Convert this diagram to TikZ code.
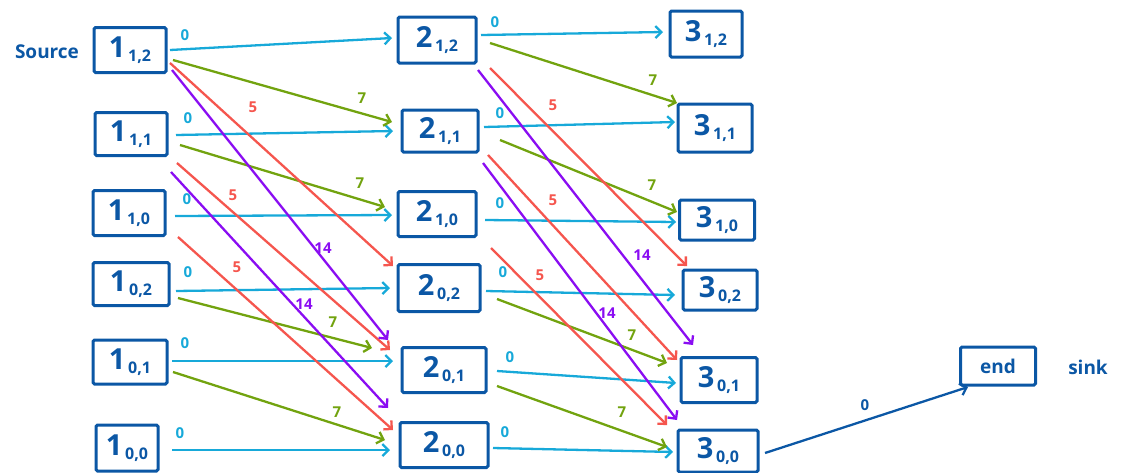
\documentclass[tikz,border=0pt]{standalone}
\usepackage{fontspec}
\setmainfont{Open Sans}
\usetikzlibrary{arrows.meta}
\definecolor{nodeblue}{HTML}{0B57A5}
\definecolor{ecyan}{HTML}{17A9D9}
\definecolor{egreen}{HTML}{72A30F}
\definecolor{ered}{HTML}{F5564E}
\definecolor{epurple}{HTML}{8A0DF2}
\newcommand{\nlab}[2]{#1\raisebox{-4pt}{\fontsize{16}{16}\selectfont\,#2}}
\begin{document}
\begin{tikzpicture}[x=1pt,y=-1pt,
  box/.style={draw=nodeblue,line width=3pt,text=nodeblue,inner sep=0pt,
    font=\fontsize{29}{30}\selectfont\bfseries,rounded corners=1.5pt},
  edge/.style={line width=2.3pt,-{Straight Barb[length=6pt,width=12pt]}},
  e0/.style={edge,ecyan},
  e7/.style={edge,egreen},
  e5/.style={edge,ered},
  e14/.style={edge,epurple},
  eend/.style={edge,nodeblue},
  lab/.style={font=\fontsize{15}{15}\selectfont\bfseries,inner sep=0pt},
  l0/.style={lab,text=ecyan},
  l7/.style={lab,text=egreen},
  l5/.style={lab,text=ered},
  l14/.style={lab,text=epurple},
  side/.style={text=nodeblue,font=\fontsize{19}{20}\selectfont\bfseries,inner sep=0pt}
]
\useasboundingbox (0,0) rectangle (1123,472);
% column 1
\node[box,minimum width=72pt,minimum height=45pt] (A12) at (130,50) {\nlab{1}{1,2}};
\node[box,minimum width=72pt,minimum height=43pt] (A11) at (131,134) {\nlab{1}{1,1}};
\node[box,minimum width=72pt,minimum height=45pt] (A10) at (129,213) {\nlab{1}{1,0}};
\node[box,minimum width=76pt,minimum height=43pt] (A02) at (131,284) {\nlab{1}{0,2}};
\node[box,minimum width=74pt,minimum height=44pt] (A01) at (130,362) {\nlab{1}{0,1}};
\node[box,minimum width=62pt,minimum height=46pt] (A00) at (127,448) {\nlab{1}{0,0}};
% column 2
\node[box,minimum width=78pt,minimum height=46pt] (B12) at (437,40) {\nlab{2}{1,2}};
\node[box,minimum width=76pt,minimum height=42pt] (B11) at (440,131) {\nlab{2}{1,1}};
\node[box,minimum width=78pt,minimum height=45pt] (B10) at (437,214) {\nlab{2}{1,0}};
\node[box,minimum width=82pt,minimum height=47pt] (B02) at (439,288) {\nlab{2}{0,2}};
\node[box,minimum width=84pt,minimum height=45pt] (B01) at (444,370) {\nlab{2}{0,1}};
\node[box,minimum width=88pt,minimum height=45pt] (B00) at (444,445) {\nlab{2}{0,0}};
% column 3
\node[box,minimum width=72pt,minimum height=46pt] (C12) at (706,34) {\nlab{3}{1,2}};
\node[box,minimum width=74pt,minimum height=48pt] (C11) at (715,128) {\nlab{3}{1,1}};
\node[box,minimum width=75pt,minimum height=40pt] (C10) at (717,220) {\nlab{3}{1,0}};
\node[box,minimum width=74pt,minimum height=40pt] (C02) at (720,290) {\nlab{3}{0,2}};
\node[box,minimum width=76pt,minimum height=45pt] (C01) at (719,380) {\nlab{3}{0,1}};
\node[box,minimum width=80pt,minimum height=42pt] (C00) at (718,451) {\nlab{3}{0,0}};
% end
\node[box,minimum width=75pt,minimum height=38pt,font=\fontsize{19}{20}\selectfont\bfseries] (E) at (998,366) {end};
\node[side] (src) at (47,52) {Source};
\node[side] (snk) at (1088,367) {sink};

% column 1 -> 2, weight 0
\draw[e0] ([shift={(40,0)}]A12.center) -- ([shift={(-45,-2)}]B12.center);
\draw[e0] ([shift={(45,1)}]A11.center) -- ([shift={(-47,0)}]B11.center);
\draw[e0] ([shift={(46,3)}]A10.center) -- ([shift={(-45,1)}]B10.center);
\draw[e0] ([shift={(45,7)}]A02.center) -- ([shift={(-49,0)}]B02.center);
\draw[e0] ([shift={(42,-1)}]A01.center) -- ([shift={(-51,-9)}]B01.center);
\draw[e0] ([shift={(45,2)}]A00.center) -- ([shift={(-54,5)}]B00.center);
% weight 7
\draw[e7] ([shift={(43,10)}]A12.center) -- ([shift={(-48,-9)}]B11.center);
\draw[e7] ([shift={(49,11)}]A11.center) -- ([shift={(-52,-7)}]B10.center);
\draw[e7] ([shift={(47,14)}]A02.center) -- ([shift={(-72,-22)}]B01.center);
\draw[e7] ([shift={(43,10)}]A01.center) -- ([shift={(-59,-5)}]B00.center);
% weight 5
\draw[e5] ([shift={(40,13)}]A12.center) -- ([shift={(-46,-22)}]B02.center);
\draw[e5] ([shift={(46,29)}]A11.center) -- ([shift={(-54,-20)}]B01.center);
\draw[e5] ([shift={(49,24)}]A10.center) -- ([shift={(-51,-15)}]B00.center);
% weight 14
\draw[e14] ([shift={(42,20)}]A12.center) -- ([shift={(-56,-30)}]B01.center);
\draw[e14] ([shift={(40,38)}]A11.center) -- ([shift={(-56,-37)}]B00.center);

% column 2 -> 3, weight 0
\draw[e0] ([shift={(44,-5)}]B12.center) -- ([shift={(-43,-2)}]C12.center);
\draw[e0] ([shift={(44,-4)}]B11.center) -- ([shift={(-40,-6)}]C11.center);
\draw[e0] ([shift={(48,6)}]B10.center) -- ([shift={(-41,2)}]C10.center);
\draw[e0] ([shift={(47,3)}]B02.center) -- ([shift={(-45,5)}]C02.center);
\draw[e0] ([shift={(53,1)}]B01.center) -- ([shift={(-43,3)}]C01.center);
\draw[e0] ([shift={(49,3)}]B00.center) -- ([shift={(-45,1)}]C00.center);
% weight 7
\draw[e7] ([shift={(53,3)}]B12.center) -- ([shift={(-38,-25)}]C11.center);
\draw[e7] ([shift={(60,9)}]B11.center) -- ([shift={(-40,-8)}]C10.center);
\draw[e7] ([shift={(58,11)}]B02.center) -- ([shift={(-52,-17)}]C01.center);
\draw[e7] ([shift={(53,16)}]B01.center) -- ([shift={(-51,-4)}]C00.center);
% weight 5
\draw[e5] ([shift={(53,28)}]B12.center) -- ([shift={(-33,-24)}]C02.center);
\draw[e5] ([shift={(48,24)}]B11.center) -- ([shift={(-42,-20)}]C01.center);
\draw[e5] ([shift={(54,34)}]B10.center) -- ([shift={(-51,-26)}]C00.center);
% weight 14
\draw[e14] ([shift={(41,30)}]B12.center) -- ([shift={(-26,-35)}]C01.center);
\draw[e14] ([shift={(43,32)}]B11.center) -- ([shift={(-41,-31)}]C00.center);

% to sink
\draw[eend] ([shift={(47,2)}]C00.center) -- ([shift={(-30,21)}]E.center);

% labels column 1 -> 2
\node[l0] (a1) at (185,35) {0};
\node[l0] (a2) at (188,118) {0};
\node[l0] (a3) at (187,199) {0};
\node[l0] (a4) at (188,272) {0};
\node[l0] (a5) at (185,343) {0};
\node[l0] (a6) at (180,433) {0};
\node[l7] (a7) at (362,98) {7};
\node[l7] (a8) at (360,183) {7};
\node[l7] (a9) at (333,322) {7};
\node[l7] (a10) at (337,412) {7};
\node[l5] (a11) at (253,107) {5};
\node[l5] (a12) at (233,195) {5};
\node[l5] (a13) at (237,267) {5};
\node[l14] (a14) at (323,248) {14};
\node[l14] (a15) at (304,304) {14};
% labels column 2 -> 3
\node[l0] (b1) at (495,22) {0};
\node[l0] (b2) at (500,113) {0};
\node[l0] (b3) at (500,203) {0};
\node[l0] (b4) at (503,272) {0};
\node[l0] (b5) at (510,357) {0};
\node[l0] (b6) at (505,432) {0};
\node[l7] (b7) at (653,80) {7};
\node[l7] (b8) at (652,185) {7};
\node[l7] (b9) at (632,335) {7};
\node[l7] (b10) at (622,412) {7};
\node[l5] (b11) at (553,105) {5};
\node[l5] (b12) at (553,200) {5};
\node[l5] (b13) at (540,275) {5};
\node[l14] (b14) at (642,255) {14};
\node[l14] (b15) at (607,313) {14};
\node[lab,text=nodeblue] (c1) at (865,405) {0};
\end{tikzpicture}
\end{document}
